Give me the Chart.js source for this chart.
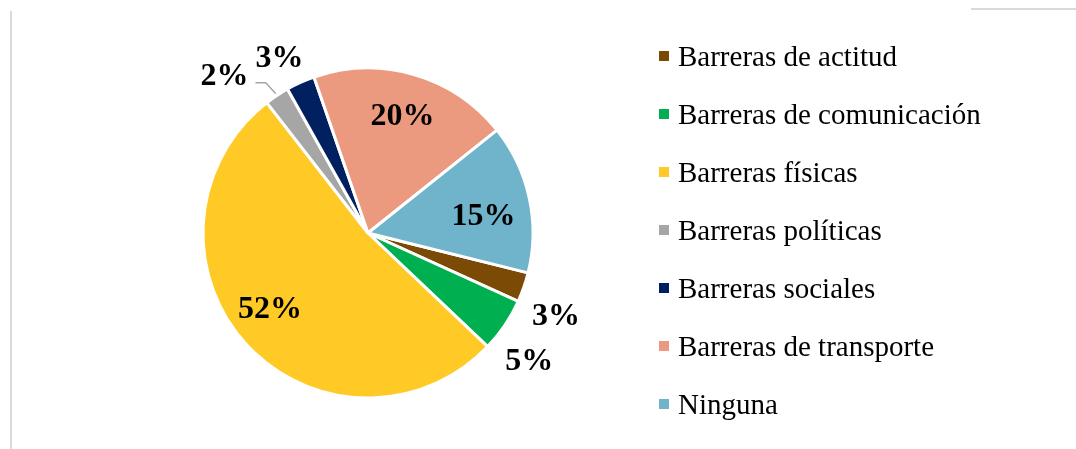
<!DOCTYPE html>
<html>
<head>
<meta charset="utf-8">
<script src="https://cdn.jsdelivr.net/npm/chart.js@4"></script>
<style>
  body { margin: 0; background: #ffffff; }
  canvas { display: block; }
</style>
</head>
<body>
<canvas id="grafico" width="1076" height="449"></canvas>
<script>
// Datos

const categorias = [
    'Barreras de actitud',
    'Barreras de comunicación',
    'Barreras físicas',
    'Barreras políticas',
    'Barreras sociales',
    'Barreras de transporte',
    'Ninguna'
];
const porcentajes = [2.9, 5.3, 52.4, 2.4, 2.8, 19.6, 14.6];
const colores = ['#7b4a05', '#00b050', '#ffca26', '#a6a6a6', '#002060', '#ec9a7f', '#70b4cc'];

// Posicion de las etiquetas: [factor del radio, desplazamiento del angulo en grados]
const posEtiquetas = [[1.24, 4], [1.24, 4], [0.745, 5], [1.30, -8.5], [1.20, -2.4], [0.75, 0], [0.71, 3]];

const ctx = document.getElementById('grafico').getContext('2d');

// Marco (solo se ven dos trozos en el original)
const marco = {
    id: 'marco',
    beforeDraw(chart) {
        const c = chart.ctx;
        c.save();
        c.strokeStyle = '#d9d9d9';
        c.lineWidth = 2;
        c.beginPath();
        c.moveTo(11, 11);
        c.lineTo(11, 449);
        c.moveTo(971, 9);
        c.lineTo(1076, 9);
        c.stroke();
        c.restore();
    }
};

// Etiquetas de porcentaje
const etiquetas = {
    id: 'etiquetas',
    afterDatasetsDraw(chart) {
        const c = chart.ctx;
        const arcos = chart.getDatasetMeta(0).data;
        const total = porcentajes.reduce((a, b) => a + b, 0);
        c.save();
        c.font = 'bold 32px "Liberation Serif", "Times New Roman", serif';
        c.fillStyle = '#000000';
        c.textAlign = 'center';
        c.textBaseline = 'alphabetic';
        arcos.forEach((arco, i) => {
            const p = arco.getProps(['x', 'y', 'startAngle', 'endAngle', 'outerRadius'], true);
            const medio = (p.startAngle + p.endAngle) / 2 + posEtiquetas[i][1] * Math.PI / 180;
            const r = p.outerRadius * posEtiquetas[i][0];
            const x = p.x + Math.cos(medio) * r;
            const y = p.y + Math.sin(medio) * r;
            c.fillText(Math.round(porcentajes[i] / total * 100) + '%', x, y + 11);
            // linea guia para la etiqueta pequeña de "Barreras políticas"
            if (i === 3) {
                const m = (p.startAngle + p.endAngle) / 2;
                const bx = p.x + Math.cos(m) * (p.outerRadius + 2);
                const by = p.y + Math.sin(m) * (p.outerRadius + 2);
                c.strokeStyle = '#a6a6a6';
                c.lineWidth = 1.5;
                c.beginPath();
                c.moveTo(bx, by);
                c.lineTo(bx - 10, by - 11);
                c.lineTo(x + 31, by - 11);
                c.stroke();
            }
        });
        c.restore();
    }
};

// Leyenda a la derecha
const leyenda = {
    id: 'leyenda',
    afterDraw(chart) {
        const c = chart.ctx;
        c.save();
        c.font = '29px "Liberation Serif", "Times New Roman", serif';
        c.textAlign = 'left';
        c.textBaseline = 'alphabetic';
        categorias.forEach((cat, i) => {
            const y = 56 + i * 58;
            c.fillStyle = colores[i];
            c.fillRect(659, y - 5, 10, 10);
            c.fillStyle = '#000000';
            c.fillText(cat, 678, y + 10);
        });
        c.restore();
    }
};

const miGrafico = new Chart(ctx, {
    type: 'pie',
    data: {
        labels: categorias,
        datasets: [{
            data: porcentajes,
            backgroundColor: colores,
            borderColor: '#ffffff',
            borderWidth: 3
        }]
    },
    options: {
        responsive: false,
        animation: false,
        rotation: 104,
        radius: 165,
        layout: {
            padding: { left: 200, right: 540, top: 65, bottom: 48 }
        },
        plugins: {
            legend: { display: false },
            tooltip: { enabled: false }
        }
    },
    plugins: [marco, etiquetas, leyenda]
});
</script>
</body>
</html>
